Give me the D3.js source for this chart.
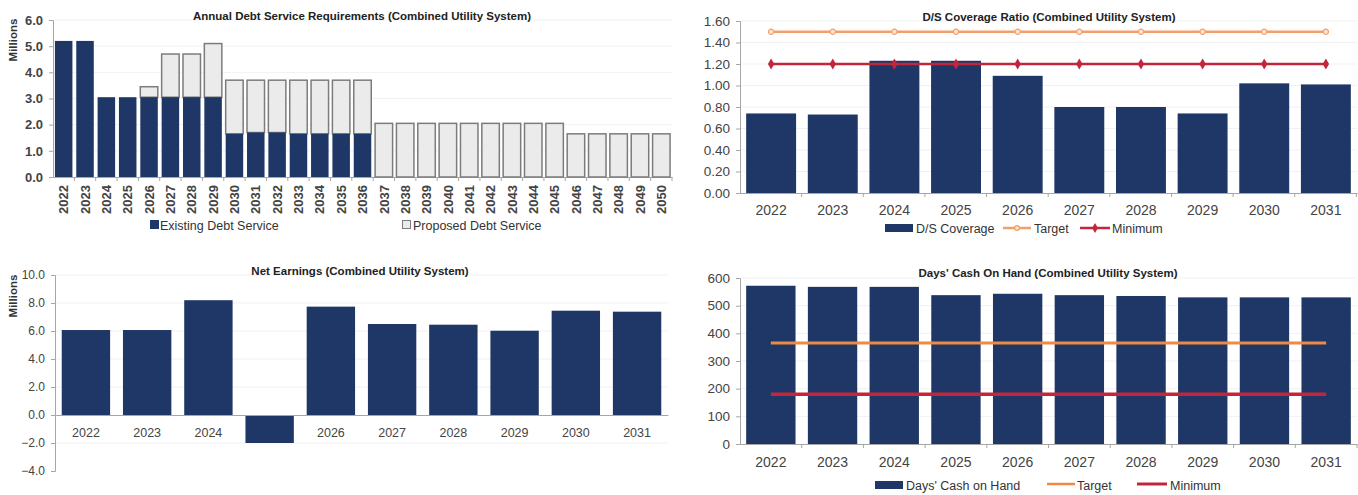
<!DOCTYPE html>
<html>
<head>
<meta charset="utf-8">
<script src="https://cdn.jsdelivr.net/npm/d3@7"></script>
<style>
  body { margin: 0; background: #fff; }
  svg { display: block; }
  text { font-family: "Liberation Sans", Arial, sans-serif; }
</style>
</head>
<body>
<svg id="dash" width="1358" height="495"></svg>
<script>
// ---- Annual debt service (millions) ----
const debtYears = ["2022","2023","2024","2025","2026","2027","2028","2029","2030","2031",
  "2032","2033","2034","2035","2036","2037","2038","2039","2040","2041","2042","2043",
  "2044","2045","2046","2047","2048","2049","2050"];
const existingDebt = [5.2,5.2,3.05,3.05,3.05,3.05,3.05,3.05,1.65,1.7,1.7,1.65,1.65,1.65,1.65,
  0,0,0,0,0,0,0,0,0,0,0,0,0,0];
const proposedDebt = [0,0,0,0,0.4,1.65,1.65,2.05,2.05,2.0,2.0,2.05,2.05,2.05,2.05,
  2.05,2.05,2.05,2.05,2.05,2.05,2.05,2.05,2.05,1.65,1.65,1.65,1.65,1.65];
const debtTicks = [0,1,2,3,4,5,6];

// ---- D/S coverage ratio ----
const years = ["2022","2023","2024","2025","2026","2027","2028","2029","2030","2031"];
const coverage = [0.74,0.73,1.23,1.23,1.09,0.80,0.80,0.74,1.02,1.01];
const coverageTarget = [1.50,1.50,1.50,1.50,1.50,1.50,1.50,1.50,1.50,1.50];
const coverageMinimum = [1.20,1.20,1.20,1.20,1.20,1.20,1.20,1.20,1.20,1.20];
const coverageTicks = [0,0.2,0.4,0.6,0.8,1.0,1.2,1.4,1.6];

// ---- Net earnings (millions) ----
const netEarnings = [6.07,6.07,8.2,-2.0,7.74,6.5,6.45,6.02,7.45,7.38];
const earningsTicks = [-4,-2,0,2,4,6,8,10];

// ---- Days' cash on hand ----
const cashDays = [572,568,568,538,543,538,535,530,530,530];
const cashTarget = [365,365,365,365,365,365,365,365,365,365];
const cashMinimum = [180,180,180,180,180,180,180,180,180,180];
const cashTicks = [0,100,200,300,400,500,600];

const NAVY = "#1f3766", GREY_FILL = "#ebebeb", GREY_EDGE = "#7c7c7c";
const ORANGE = "#f2a06a", ORANGE_DARK = "#ee8a43", RED = "#c3263c";
const AXIS = "#a6a6a6", LABEL = "#444";

const svg = d3.select("#dash");

function gridLines(y, ticks, x0, x1) {
  svg.append("g").selectAll("line").data(ticks).join("line")
    .attr("x1", x0).attr("x2", x1)
    .attr("y1", d => y(d)).attr("y2", d => y(d))
    .attr("stroke", "#f1f1f1").attr("stroke-width", 1);
}

function leftAxis(x0, y, ticks, fmt, size, weight) {
  const g = svg.append("g").attr("transform", `translate(${x0},0)`)
    .call(d3.axisLeft(y).tickValues(ticks).tickFormat(fmt).tickSize(4).tickPadding(6));
  g.select(".domain").attr("stroke", AXIS);
  g.selectAll(".tick line").attr("stroke", AXIS);
  g.selectAll("text").attr("fill", LABEL).style("font-size", size + "px")
    .style("font-weight", weight);
  return g;
}

// small tick marks on the boundaries between categories
function boundaryTicks(x, y0) {
  const start = x.range()[0];
  svg.append("g").selectAll("line").data(x.domain()).join("line")
    .attr("x1", (d, i) => start + x.step() * (i + 1))
    .attr("x2", (d, i) => start + x.step() * (i + 1))
    .attr("y1", y0).attr("y2", y0 + 4).attr("stroke", AXIS);
}

function title(x, y, txt) {
  svg.append("text").attr("x", x).attr("y", y).attr("text-anchor", "middle")
    .style("font-size", "11.5px").style("font-weight", "bold").attr("fill", "#222")
    .text(txt);
}

function millions(x, y) {
  svg.append("text").attr("transform", `translate(${x},${y}) rotate(-90)`)
    .attr("text-anchor", "middle").style("font-size", "11.5px").style("font-weight", "bold")
    .attr("fill", "#333").text("Millions");
}

function legendText(x, y, txt) {
  svg.append("text").attr("x", x).attr("y", y).style("font-size", "12.5px")
    .attr("fill", "#333").text(txt);
}

// ===================== Annual debt service =====================
{
  const x = d3.scaleBand().domain(debtYears).range([53, 672]).paddingInner(0.18).paddingOuter(0.09);
  const y = d3.scaleLinear().domain([0, 6]).range([177, 20]);
  gridLines(y, debtTicks.slice(1), 54, 672);
  leftAxis(53, y, debtTicks, d3.format(".1f"), 13, "bold");

  const g = svg.append("g").attr("transform", "translate(0,177)")
    .call(d3.axisBottom(x).tickSize(0));
  g.select(".domain").attr("stroke", AXIS);
  g.selectAll("text")
    .attr("transform", "rotate(-90)").attr("x", -8).attr("y", 0).attr("dy", "0.36em")
    .style("text-anchor", "end").style("font-size", "13px").style("font-weight", "bold")
    .attr("fill", LABEL);
  boundaryTicks(x, 177);

  const rows = debtYears.map((d, i) => ({ year: d, existing: existingDebt[i], proposed: proposedDebt[i] }));
  svg.append("g").selectAll("rect").data(rows.filter(r => r.proposed > 0)).join("rect")
    .attr("x", r => x(r.year)).attr("width", x.bandwidth())
    .attr("y", r => y(r.existing + r.proposed))
    .attr("height", r => y(r.existing) - y(r.existing + r.proposed))
    .attr("fill", GREY_FILL).attr("stroke", GREY_EDGE).attr("stroke-width", 1.5);
  svg.append("g").selectAll("rect").data(rows.filter(r => r.existing > 0)).join("rect")
    .attr("x", r => x(r.year)).attr("width", x.bandwidth())
    .attr("y", r => y(r.existing)).attr("height", r => y(0) - y(r.existing))
    .attr("fill", NAVY);

  title(362, 20, "Annual Debt Service Requirements (Combined Utility System)");
  millions(17, 40);

  svg.append("rect").attr("x", 150).attr("y", 220).attr("width", 9).attr("height", 9).attr("fill", NAVY);
  legendText(160, 230, "Existing Debt Service");
  svg.append("rect").attr("x", 402.5).attr("y", 220.5).attr("width", 8).attr("height", 8)
    .attr("fill", GREY_FILL).attr("stroke", GREY_EDGE).attr("stroke-width", 1);
  legendText(413, 230, "Proposed Debt Service");
}

// ===================== D/S coverage =====================
{
  const x = d3.scaleBand().domain(years).range([740, 1357]).paddingInner(0.19).paddingOuter(0.1);
  const y = d3.scaleLinear().domain([0, 1.6]).range([193, 21]);
  gridLines(y, coverageTicks.slice(1), 741, 1357);
  leftAxis(740, y, coverageTicks, d3.format(".2f"), 13.5, "normal");
  const g = svg.append("g").attr("transform", "translate(0,193)")
    .call(d3.axisBottom(x).tickSize(0).tickPadding(12));
  g.select(".domain").attr("stroke", AXIS);
  g.selectAll("text").attr("fill", LABEL).style("font-size", "14px");
  boundaryTicks(x, 193);

  svg.append("g").selectAll("rect").data(coverage).join("rect")
    .attr("x", (d, i) => x(years[i])).attr("width", x.bandwidth())
    .attr("y", d => y(d)).attr("height", d => y(0) - y(d)).attr("fill", NAVY);

  const cx = i => x(years[i]) + x.bandwidth() / 2;
  const line = d3.line().x((d, i) => cx(i)).y(d => y(d));
  svg.append("path").datum(coverageTarget).attr("d", line)
    .attr("fill", "none").attr("stroke", ORANGE).attr("stroke-width", 2.5);
  svg.append("g").selectAll("path").data(coverageTarget).join("path")
    .attr("transform", (d, i) => `translate(${cx(i)},${y(d)})`)
    .attr("d", d3.symbol(d3.symbolCircle, 22))
    .attr("fill", "#fbe3d2").attr("stroke", ORANGE).attr("stroke-width", 1.2);
  svg.append("path").datum(coverageMinimum).attr("d", line)
    .attr("fill", "none").attr("stroke", RED).attr("stroke-width", 2.5);
  svg.append("g").selectAll("path").data(coverageMinimum).join("path")
    .attr("transform", (d, i) => `translate(${cx(i)},${y(d)})`)
    .attr("d", d3.symbol(d3.symbolDiamond, 36)).attr("fill", RED);

  title(1049, 21, "D/S Coverage Ratio (Combined Utility System)");

  svg.append("rect").attr("x", 885).attr("y", 224).attr("width", 28).attr("height", 8).attr("fill", NAVY);
  legendText(916, 233, "D/S Coverage");
  svg.append("line").attr("x1", 1003).attr("x2", 1031).attr("y1", 228).attr("y2", 228)
    .attr("stroke", ORANGE).attr("stroke-width", 2.5);
  svg.append("path").attr("transform", "translate(1017,228)").attr("d", d3.symbol(d3.symbolCircle, 18))
    .attr("fill", "#fbe3d2").attr("stroke", ORANGE).attr("stroke-width", 1.2);
  legendText(1034, 233, "Target");
  svg.append("line").attr("x1", 1080).attr("x2", 1110).attr("y1", 228).attr("y2", 228)
    .attr("stroke", RED).attr("stroke-width", 2.5);
  svg.append("path").attr("transform", "translate(1095,228)").attr("d", d3.symbol(d3.symbolDiamond, 30)).attr("fill", RED);
  legendText(1112, 233, "Minimum");
}

// ===================== Net earnings =====================
{
  const x = d3.scaleBand().domain(years).range([55, 668]).paddingInner(0.21).paddingOuter(0.11);
  const y = d3.scaleLinear().domain([-4, 10]).range([471, 275]);
  gridLines(y, earningsTicks.filter(t => t !== 0 && t !== -4), 56, 668);
  leftAxis(55, y, earningsTicks, d3.format(".1f"), 12, "normal");
  // category labels sit under the zero line; the negative bar is drawn over its label
  const g = svg.append("g").attr("transform", `translate(0,${y(0)})`)
    .call(d3.axisBottom(x).tickSize(0).tickPadding(13));
  g.select(".domain").attr("stroke", AXIS);
  g.selectAll("text").attr("fill", LABEL).style("font-size", "12.5px");

  svg.append("g").selectAll("rect").data(netEarnings).join("rect")
    .attr("x", (d, i) => x(years[i])).attr("width", x.bandwidth())
    .attr("y", d => y(Math.max(0, d)) + (d < 0 ? 1 : 0))
    .attr("height", d => Math.abs(y(d) - y(0)) - (d < 0 ? 1 : 0))
    .attr("fill", NAVY);

  title(360, 275, "Net Earnings (Combined Utility System)");
  millions(17, 296);
}

// ===================== Days' cash on hand =====================
{
  const x = d3.scaleBand().domain(years).range([740, 1357]).paddingInner(0.2).paddingOuter(0.1);
  const y = d3.scaleLinear().domain([0, 600]).range([444, 278]);
  gridLines(y, cashTicks.slice(1), 741, 1357);
  leftAxis(740, y, cashTicks, d3.format("d"), 13.5, "normal");
  const g = svg.append("g").attr("transform", "translate(0,444)")
    .call(d3.axisBottom(x).tickSize(0).tickPadding(13));
  g.select(".domain").attr("stroke", AXIS);
  g.selectAll("text").attr("fill", LABEL).style("font-size", "14px");
  boundaryTicks(x, 444);

  svg.append("g").selectAll("rect").data(cashDays).join("rect")
    .attr("x", (d, i) => x(years[i])).attr("width", x.bandwidth())
    .attr("y", d => y(d)).attr("height", d => y(0) - y(d)).attr("fill", NAVY);

  const cx = i => x(years[i]) + x.bandwidth() / 2;
  const line = d3.line().x((d, i) => cx(i)).y(d => y(d));
  svg.append("path").datum(cashTarget).attr("d", line)
    .attr("fill", "none").attr("stroke", ORANGE_DARK).attr("stroke-width", 3);
  svg.append("path").datum(cashMinimum).attr("d", line)
    .attr("fill", "none").attr("stroke", RED).attr("stroke-width", 3.5);

  title(1048, 277, "Days' Cash On Hand (Combined Utility System)");

  svg.append("rect").attr("x", 875).attr("y", 481).attr("width", 28).attr("height", 8).attr("fill", NAVY);
  legendText(906, 490, "Days' Cash on Hand");
  svg.append("line").attr("x1", 1047).attr("x2", 1075).attr("y1", 484).attr("y2", 484)
    .attr("stroke", ORANGE_DARK).attr("stroke-width", 2.5);
  legendText(1077, 490, "Target");
  svg.append("line").attr("x1", 1137).attr("x2", 1167).attr("y1", 484).attr("y2", 484)
    .attr("stroke", RED).attr("stroke-width", 3);
  legendText(1170, 490, "Minimum");
}
</script>
</body>
</html>
